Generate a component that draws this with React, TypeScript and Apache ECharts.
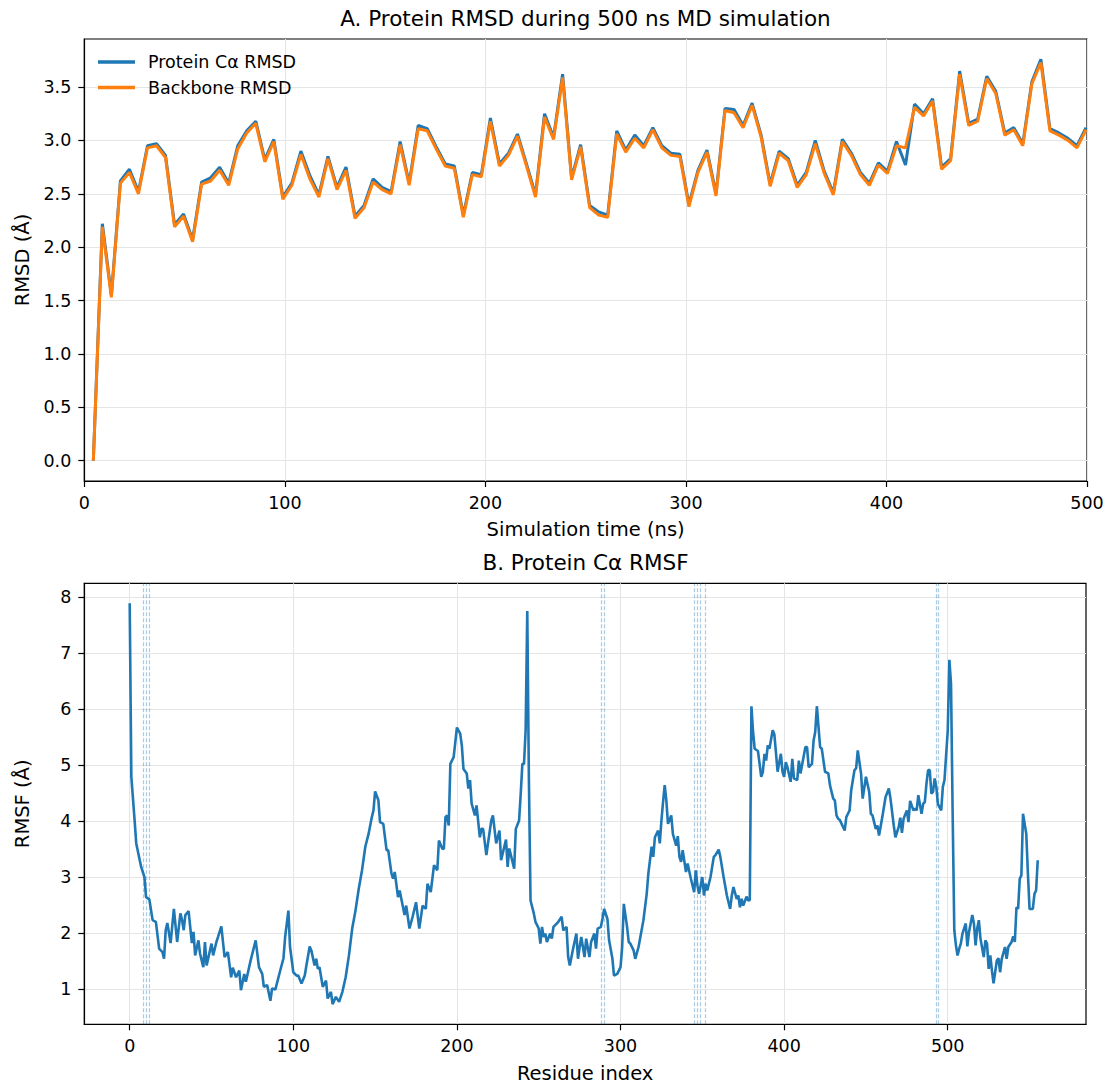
import React, { useEffect, useRef } from "react";
import * as echarts from "echarts";

// ---------- Panel A: RMSD time series ----------
const timeNs = [
  4.5, 9, 13.5, 18, 22.5, 27, 31.5, 36, 40.5, 45, 49.5, 54, 58.5, 63, 67.5, 72, 76.5, 81, 85.5, 90,
  94.5, 99, 103.5, 108, 112.5, 117, 121.5, 126, 130.5, 135, 139.5, 144, 148.5, 153, 157.5, 162, 166.5, 171, 175.5, 180,
  184.5, 189, 193.5, 198, 202.5, 207, 211.5, 216, 220.5, 225, 229.5, 234, 238.5, 243, 247.5, 252, 256.5, 261, 265.5, 270,
  274.5, 279, 283.5, 288, 292.5, 297, 301.5, 306, 310.5, 315, 319.5, 324, 328.5, 333, 337.5, 342, 346.5, 351, 355.5, 360,
  364.5, 369, 373.5, 378, 382.5, 387, 391.5, 396, 400.5, 405, 409.5, 414, 418.5, 423, 427.5, 432, 436.5, 441, 445.5, 450,
  454.5, 459, 463.5, 468, 472.5, 477, 481.5, 486, 490.5, 495, 499.5,
];

const caRmsd = [
  0.0, 2.22, 1.55, 2.62, 2.73, 2.52, 2.95, 2.97, 2.86, 2.21, 2.31, 2.07, 2.61, 2.65, 2.75, 2.6, 2.95, 3.09, 3.18, 2.82,
  3.01, 2.47, 2.6, 2.9, 2.67, 2.49, 2.85, 2.56, 2.75, 2.29, 2.39, 2.64, 2.56, 2.52, 2.99, 2.6, 3.14, 3.11, 2.94, 2.78,
  2.76, 2.3, 2.7, 2.68, 3.21, 2.78, 2.88, 3.06, 2.78, 2.49, 3.25, 3.03, 3.62, 2.65, 2.96, 2.39, 2.33, 2.3, 3.09, 2.91,
  3.05, 2.95, 3.12, 2.95, 2.88, 2.87, 2.4, 2.72, 2.91, 2.5, 3.3, 3.29, 3.14, 3.35, 3.05, 2.59, 2.9, 2.83, 2.58, 2.7,
  3.0, 2.71, 2.51, 3.01, 2.88, 2.7, 2.6, 2.79, 2.71, 2.99, 2.77, 3.34, 3.25, 3.39, 2.75, 2.83, 3.65, 3.16, 3.2, 3.6,
  3.46, 3.07, 3.12, 2.97, 3.55, 3.76, 3.11, 3.07, 3.02, 2.95, 3.12,
];

const backboneRmsd = [
  0.0, 2.19, 1.53, 2.6, 2.7, 2.5, 2.93, 2.95, 2.84, 2.19, 2.29, 2.05, 2.59, 2.62, 2.72, 2.58, 2.92, 3.07, 3.16, 2.8,
  2.99, 2.45, 2.58, 2.87, 2.64, 2.47, 2.83, 2.54, 2.72, 2.27, 2.37, 2.61, 2.54, 2.5, 2.96, 2.58, 3.11, 3.09, 2.92, 2.76,
  2.74, 2.28, 2.68, 2.66, 3.18, 2.76, 2.86, 3.04, 2.76, 2.47, 3.22, 3.01, 3.59, 2.63, 2.94, 2.37, 2.3, 2.28, 3.06, 2.89,
  3.02, 2.93, 3.1, 2.93, 2.86, 2.85, 2.38, 2.7, 2.89, 2.48, 3.28, 3.26, 3.12, 3.33, 3.03, 2.57, 2.88, 2.81, 2.56, 2.68,
  2.97, 2.69, 2.49, 2.99, 2.86, 2.68, 2.58, 2.77, 2.69, 2.95, 2.93, 3.31, 3.23, 3.37, 2.73, 2.81, 3.62, 3.14, 3.18, 3.58,
  3.44, 3.05, 3.1, 2.95, 3.53, 3.73, 3.09, 3.05, 3.0, 2.93, 3.1,
];

const timeTicks = [0, 100, 200, 300, 400, 500];
const rmsdTicks = [0, 0.5, 1, 1.5, 2, 2.5, 3, 3.5];

// ---------- Panel B: RMSF per residue ----------
const residueIdx = [
  0, 1, 3, 4, 7, 9, 10, 12, 14, 16, 18, 20, 21, 22, 23, 25, 27, 29, 31, 32,
  33, 34, 36, 38, 39, 40, 42, 43, 45, 46, 47, 50, 51, 53, 54, 56, 58, 60, 62, 63,
  65, 67, 68, 70, 71, 74, 77, 79, 81, 82, 84, 86, 87, 89, 92, 94, 95, 97, 98, 100,
  102, 103, 105, 107, 108, 110, 111, 113, 114, 115, 116, 118, 120, 121, 123, 124, 126, 128, 130, 132,
  134, 136, 138, 140, 142, 144, 146, 148, 149, 150, 152, 153, 155, 157, 158, 160, 161, 162, 164, 165,
  168, 169, 171, 173, 175, 177, 179, 181, 182, 184, 186, 188, 189, 191, 192, 193, 194, 195, 196, 198,
  200, 202, 203, 204, 206, 207, 208, 209, 211, 212, 214, 215, 216, 218, 219, 221, 222, 224, 226, 227,
  230, 231, 232, 235, 236, 238, 239, 240, 241, 242, 243, 244, 245, 247, 248, 250, 251, 252, 253, 254,
  255, 257, 258, 259, 262, 264, 265, 267, 268, 269, 271, 273, 274, 275, 276, 278, 279, 281, 282, 284,
  285, 286, 288, 289, 290, 292, 293, 295, 296, 298, 300, 301, 302, 304, 305, 306, 308, 309, 311, 314,
  316, 317, 319, 320, 321, 323, 324, 325, 326, 327, 328, 329, 331, 332, 334, 335, 336, 337, 338, 340,
  341, 343, 345, 346, 347, 348, 350, 351, 352, 353, 355, 357, 358, 360, 361, 363, 365, 367, 368, 369,
  371, 372, 373, 374, 375, 377, 378, 379, 380, 381, 382, 384, 385, 386, 387, 388, 389, 390, 391, 393,
  394, 395, 396, 398, 399, 400, 401, 402, 404, 405, 406, 408, 409, 410, 413, 414, 415, 417, 418, 419,
  420, 421, 422, 423, 425, 427, 428, 430, 431, 432, 433, 434, 437, 438, 439, 440, 441, 443, 444, 445,
  447, 448, 450, 452, 453, 454, 456, 457, 458, 460, 461, 462, 464, 465, 467, 468, 470, 471, 472, 473,
  475, 476, 477, 479, 480, 481, 482, 484, 485, 486, 487, 488, 489, 490, 491, 492, 493, 494, 496, 497,
  498, 500, 501, 502, 503, 504, 505, 506, 507, 508, 509, 511, 512, 513, 515, 516, 517, 518, 519, 520,
  522, 523, 524, 525, 526, 527, 528, 530, 531, 532, 533, 535, 536, 537, 539, 540, 541, 542, 543, 544,
  545, 546, 548, 549, 550, 552, 553, 554, 555,
];

const caRmsf = [
  7.89, 4.79, 4.01, 3.6, 3.18, 3.0, 2.64, 2.6, 2.23, 2.2, 1.72, 1.66, 1.54, 2.05, 2.18, 1.82, 2.43, 1.84, 2.35, 2.23,
  2.05, 2.32, 2.39, 1.82, 2.02, 1.6, 1.87, 1.63, 1.39, 1.84, 1.42, 1.81, 1.6, 1.84, 1.93, 2.12, 1.57, 1.66, 1.21, 1.38,
  1.21, 1.33, 0.98, 1.27, 1.13, 1.52, 1.87, 1.39, 1.27, 1.04, 1.07, 0.79, 1.01, 0.99, 1.33, 1.55, 1.93, 2.4, 1.75, 1.3,
  1.24, 1.24, 1.1, 1.24, 1.42, 1.76, 1.69, 1.42, 1.54, 1.36, 1.39, 1.04, 1.15, 0.83, 0.95, 0.73, 0.86, 0.77, 0.95, 1.21,
  1.6, 2.08, 2.4, 2.79, 3.12, 3.54, 3.77, 4.07, 4.19, 4.53, 4.37, 3.98, 3.95, 3.48, 3.48, 3.06, 2.97, 3.09, 2.64, 2.76,
  2.32, 2.49, 2.08, 2.3, 2.55, 2.08, 2.49, 2.43, 2.88, 2.73, 3.21, 3.12, 3.65, 3.51, 3.5, 4.07, 4.1, 3.92, 5.02, 5.14,
  5.67, 5.56, 5.35, 4.93, 4.85, 4.58, 4.73, 4.31, 4.1, 4.28, 3.71, 3.86, 3.86, 3.39, 3.6, 4.01, 4.1, 3.6, 3.83, 3.3,
  3.67, 3.18, 3.51, 3.15, 3.86, 4.01, 4.49, 5.02, 5.02, 5.62, 7.75, 4.73, 2.58, 2.35, 2.2, 2.08, 1.81, 2.11, 1.93, 1.99,
  1.84, 1.99, 1.9, 2.11, 2.2, 2.29, 2.05, 2.11, 1.57, 1.42, 1.72, 1.99, 1.54, 1.75, 1.93, 1.57, 1.9, 1.57, 1.84, 1.99,
  1.72, 2.08, 2.11, 2.26, 2.43, 2.25, 1.87, 1.55, 1.24, 1.27, 1.39, 1.75, 2.52, 2.11, 1.84, 1.81, 1.69, 1.54, 1.75, 2.23,
  2.7, 3.06, 3.54, 3.36, 3.71, 3.83, 3.6, 4.01, 4.34, 4.64, 4.37, 3.95, 4.1, 3.77, 3.56, 3.73, 3.36, 3.27, 3.48, 3.09,
  3.24, 2.97, 2.73, 3.12, 2.85, 2.7, 3.0, 2.67, 2.88, 2.76, 3.0, 3.36, 3.39, 3.49, 3.36, 3.0, 2.67, 2.43, 2.67, 2.82,
  2.61, 2.67, 2.46, 2.61, 2.49, 2.65, 2.58, 2.59, 6.05, 5.59, 5.29, 5.25, 5.02, 4.79, 4.88, 5.2, 5.08, 5.35, 5.29, 5.62,
  5.55, 5.22, 4.88, 5.2, 4.88, 4.79, 5.05, 4.96, 4.7, 5.11, 4.76, 4.73, 5.08, 4.85, 5.32, 5.32, 4.96, 5.02, 5.44, 5.59,
  6.05, 5.68, 5.32, 5.29, 4.88, 4.85, 4.64, 4.4, 4.37, 4.1, 4.04, 4.02, 3.83, 4.07, 4.13, 4.19, 4.55, 4.91, 4.94, 5.26,
  4.85, 4.4, 4.79, 4.52, 4.13, 4.1, 3.86, 3.92, 3.74, 4.07, 4.25, 4.43, 4.58, 4.4, 3.92, 3.71, 3.89, 4.06, 3.79, 4.04,
  4.19, 3.98, 4.36, 4.19, 4.22, 4.19, 4.46, 4.13, 4.31, 4.34, 4.67, 4.91, 4.91, 4.49, 4.52, 4.76, 4.61, 4.3, 4.19, 4.61,
  4.73, 5.62, 6.88, 6.45, 4.13, 2.05, 1.78, 1.6, 1.72, 1.81, 1.99, 2.17, 1.76, 2.02, 2.32, 2.17, 1.78, 2.08, 2.23, 1.9,
  1.57, 1.87, 1.81, 1.36, 1.6, 1.33, 1.1, 1.51, 1.55, 1.3, 1.54, 1.75, 1.54, 1.75, 1.84, 1.94, 1.84, 2.46, 2.43, 2.97,
  3.03, 4.13, 3.77, 3.06, 2.43, 2.43, 2.7, 2.76, 3.3,
];

const markedResidues = [8, 10, 12, 288, 290, 345, 347, 349, 352, 493, 494];
const residueTicks = [0, 100, 200, 300, 400, 500];
const rmsfTicks = [1, 2, 3, 4, 5, 6, 7, 8];

const FONT = "'DejaVu Sans', 'Liberation Sans', sans-serif";
const BLUE = "#1f77b4";
const ORANGE = "#ff7f0e";

function axisStyle(ticks: number[], fmt: (v: number) => string, name: string, nameGap: number) {
  return {
    name,
    nameLocation: "middle",
    nameGap,
    nameTextStyle: { fontSize: 19.5, color: "#000", fontFamily: FONT },
    axisLine: { show: true, onZero: false, lineStyle: { color: "#000", width: 1.2 } },
    axisTick: {
      show: true,
      inside: false,
      length: 6,
      customValues: ticks,
      lineStyle: { color: "#000", width: 1.2 },
    },
    axisLabel: {
      show: true,
      customValues: ticks,
      formatter: (v: number) => fmt(v),
      fontSize: 17.5,
      color: "#000",
      fontFamily: FONT,
      margin: 13,
    },
    splitLine: { show: true, lineStyle: { color: "#e5e5e5", width: 1.1 } },
    minorTick: { show: false },
  };
}

export default function App() {
  const ref = useRef<HTMLDivElement>(null);

  useEffect(() => {
    if (!ref.current) return;
    const chart = echarts.init(ref.current, null, { renderer: "svg" });

    const option: any = {
      animation: false,
      backgroundColor: "#ffffff",
      textStyle: { fontFamily: FONT },
      graphic: [
        {
          type: "text",
          x: 585.5,
          y: 18,
          style: {
            text: "A. Protein RMSD during 500 ns MD simulation",
            fontSize: 21.5,
            fontFamily: FONT,
            fill: "#000",
            align: "center",
            verticalAlign: "middle",
          },
        },
        {
          type: "text",
          x: 585.5,
          y: 562.5,
          style: {
            text: "B. Protein Cα RMSF",
            fontSize: 21.5,
            fontFamily: FONT,
            fill: "#000",
            align: "center",
            verticalAlign: "middle",
          },
        },
      ],
      legend: {
        data: ["Protein Cα RMSD", "Backbone RMSD"],
        orient: "vertical",
        left: 98,
        top: 53,
        padding: 0,
        itemWidth: 37,
        itemHeight: 3.5,
        itemGap: 7.5,
        icon: "rect",
        textStyle: { fontSize: 17.5, color: "#000", fontFamily: FONT, padding: [0, 0, 0, 8] },
      },
      grid: [
        {
          left: 84.3,
          top: 39,
          width: 1002.7,
          height: 442,
          show: true,
          borderColor: "#000",
          borderWidth: 1.2,
          backgroundColor: "transparent",
        },
        {
          left: 84.3,
          top: 583.3,
          width: 1001.7,
          height: 441,
          show: true,
          borderColor: "#000",
          borderWidth: 1.2,
          backgroundColor: "transparent",
        },
      ],
      xAxis: [
        {
          type: "value",
          gridIndex: 0,
          min: 0,
          max: 500,
          ...axisStyle(timeTicks, (v) => String(v), "Simulation time (ns)", 38),
        },
        {
          type: "value",
          gridIndex: 1,
          min: -27.75,
          max: 584.5,
          ...axisStyle(residueTicks, (v) => String(v), "Residue index", 39),
        },
      ],
      yAxis: [
        {
          type: "value",
          gridIndex: 0,
          min: -0.19,
          max: 3.95,
          ...axisStyle(rmsdTicks, (v) => v.toFixed(1), "RMSD (Å)", 52),
        },
        {
          type: "value",
          gridIndex: 1,
          min: 0.37,
          max: 8.245,
          ...axisStyle(rmsfTicks, (v) => String(v), "RMSF (Å)", 52),
        },
      ],
      series: [
        {
          name: "Protein Cα RMSD",
          type: "line",
          xAxisIndex: 0,
          yAxisIndex: 0,
          data: timeNs.map((t, i) => [t, caRmsd[i]]),
          showSymbol: false,
          symbol: "none",
          lineStyle: { color: BLUE, width: 3 },
          itemStyle: { color: BLUE },
          z: 3,
        },
        {
          name: "Backbone RMSD",
          type: "line",
          xAxisIndex: 0,
          yAxisIndex: 0,
          data: timeNs.map((t, i) => [t, backboneRmsd[i]]),
          showSymbol: false,
          symbol: "none",
          lineStyle: { color: ORANGE, width: 3 },
          itemStyle: { color: ORANGE },
          z: 4,
        },
        {
          name: "marked",
          type: "line",
          xAxisIndex: 1,
          yAxisIndex: 1,
          data: [],
          z: 2,
          markLine: {
            silent: true,
            symbol: ["none", "none"],
            label: { show: false },
            lineStyle: { color: "rgba(31,119,180,0.38)", type: [4, 2], width: 1.2 },
            data: markedResidues.map((r) => ({ xAxis: r })),
          },
        },
        {
          name: "Protein Cα RMSF",
          type: "line",
          xAxisIndex: 1,
          yAxisIndex: 1,
          data: residueIdx.map((r, i) => [r, caRmsf[i]]),
          showSymbol: false,
          symbol: "none",
          lineStyle: { color: BLUE, width: 2.6 },
          itemStyle: { color: BLUE },
          z: 3,
        },
      ],
    };

    chart.setOption(option);
    return () => {
      chart.dispose();
    };
  }, []);

  return (
    <div
      ref={ref}
      style={{ position: "absolute", left: 0, top: 0, width: 1111, height: 1090, background: "#fff" }}
    />
  );
}
